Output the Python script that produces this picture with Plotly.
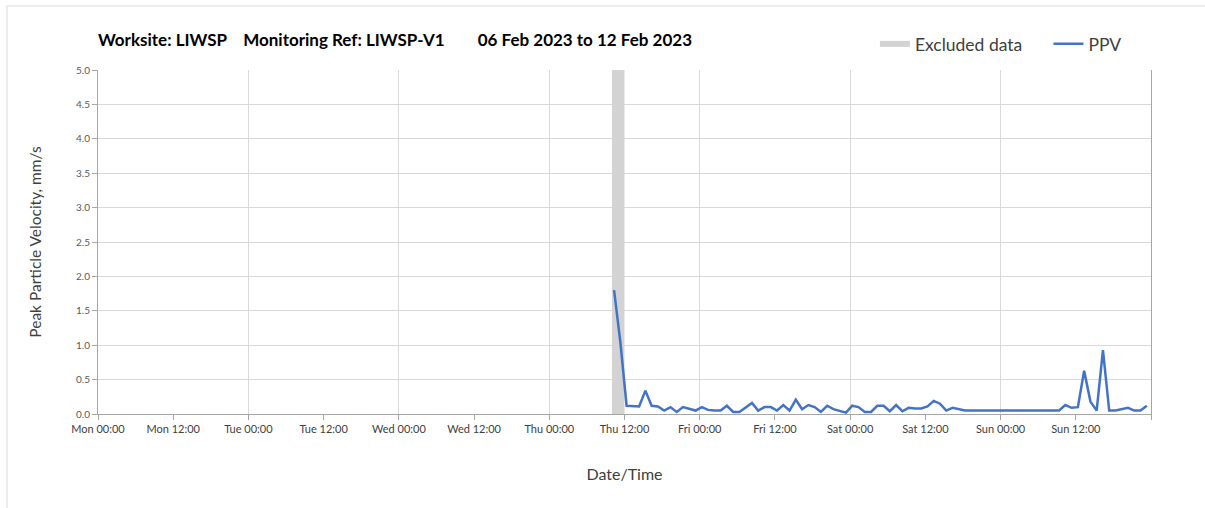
import pandas as pd
import plotly.graph_objects as go

# Hourly peak particle velocity readings (mm/s), starting Thu 09 Feb 2023 10:20
ppv_start = "2023-02-09 10:20"
ppv_values = [
    1.80, 1.05, 0.12, 0.11, 0.11, 0.34, 0.12, 0.11, 0.05, 0.10,
    0.03, 0.10, 0.07, 0.05, 0.10, 0.06, 0.05, 0.05, 0.12, 0.03,
    0.03, 0.10, 0.16, 0.05, 0.10, 0.10, 0.05, 0.13, 0.05, 0.21,
    0.07, 0.13, 0.10, 0.03, 0.12, 0.07, 0.05, 0.02, 0.12, 0.10,
    0.03, 0.03, 0.12, 0.12, 0.04, 0.13, 0.04, 0.09, 0.08, 0.08,
    0.11, 0.19, 0.15, 0.05, 0.09, 0.07, 0.05, 0.05, 0.05, 0.04,
    0.04, 0.05, 0.05, 0.05, 0.04, 0.04, 0.05, 0.05, 0.05, 0.05,
    0.05, 0.05, 0.13, 0.09, 0.10, 0.63, 0.18, 0.05, 0.93, 0.05,
    0.05, 0.07, 0.09, 0.05, 0.05, 0.12,
]
ppv_times = pd.date_range(ppv_start, periods=len(ppv_values), freq="h")

# Period flagged as excluded data
excluded_start = "2023-02-09 10:00"
excluded_end = "2023-02-09 12:00"

# Axis extent and tick labels
x_start = "2023-02-06 00:00"
x_end = "2023-02-13 00:00"
y_max = 5.0
tick_labels = [
    "Mon 00:00", "Mon 12:00", "Tue 00:00", "Tue 12:00", "Wed 00:00",
    "Wed 12:00", "Thu 00:00", "Thu 12:00", "Fri 00:00", "Fri 12:00",
    "Sat 00:00", "Sat 12:00", "Sun 00:00", "Sun 12:00", "",
]
tick_values = pd.date_range(x_start, x_end, freq="12h")

title_text = ("Worksite: LIWSP\u00a0\u00a0\u00a0\u00a0Monitoring Ref: LIWSP-V1"
              "\u00a0\u00a0\u00a0\u00a0\u00a0\u00a0\u00a0\u00a006 Feb 2023 to 12 Feb 2023")

FONT = "Lato"
AXIS_GREY = "#a6a6a6"
GRID_GREY = "#d9d9d9"
TEXT_GREY = "#404040"

fig = go.Figure()

fig.add_trace(go.Scatter(
    x=[excluded_start, excluded_start, excluded_end, excluded_end, excluded_start],
    y=[0, y_max, y_max, 0, 0],
    mode="none", fill="toself", fillcolor="#d3d3d3",
    name="Excluded data", xaxis="x", yaxis="y", hoverinfo="skip",
    legend="legend",
))

fig.add_trace(go.Scatter(
    x=ppv_times, y=ppv_values, mode="lines",
    line=dict(color="#4472c4", width=2.5),
    name="PPV", xaxis="x2", yaxis="y",
    legend="legend2",
))

legend_style = dict(
    orientation="h", yanchor="middle", y=1.0756, xanchor="left",
    font=dict(family=FONT, size=17.5, color=TEXT_GREY),
    bgcolor="rgba(0,0,0,0)",
)

fig.update_layout(
    width=1205, height=508,
    margin=dict(l=98, r=54, t=70, b=94, autoexpand=False),
    paper_bgcolor="white", plot_bgcolor="white",
    font=dict(family=FONT, color=TEXT_GREY),
    title=dict(
        text=title_text, x=0, xref="paper", xanchor="left",
        y=1 - 40 / 508, yref="container", yanchor="middle",
        font=dict(family=FONT, size=17, color="#000000", weight="bold"),
    ),
    showlegend=True,
    legend=dict(legend_style, x=0.7378),
    legend2=dict(legend_style, x=0.9026),
    xaxis=dict(
        range=[x_start, x_end], type="date",
        tickmode="array", tickvals=tick_values, ticktext=tick_labels,
        ticks="outside", ticklen=5, tickcolor=AXIS_GREY,
        tickfont=dict(family=FONT, size=11, color=TEXT_GREY),
        showgrid=False, zeroline=False,
        showline=True, linecolor=AXIS_GREY, linewidth=1,
        title=dict(text="Date/Time", standoff=34,
                   font=dict(family=FONT, size=16, color=TEXT_GREY)),
    ),
    xaxis2=dict(
        overlaying="x", matches="x", type="date", side="bottom",
        tick0=x_start, dtick=86400000,
        showticklabels=False, ticks="", showline=False,
        showgrid=True, gridcolor=GRID_GREY, gridwidth=1, zeroline=False,
    ),
    yaxis=dict(
        range=[0, y_max], dtick=0.5, tickformat=".1f",
        ticks="outside", ticklen=5, tickcolor=AXIS_GREY,
        tickfont=dict(family=FONT, size=10, color="#595959"),
        showgrid=True, gridcolor=GRID_GREY, gridwidth=1, zeroline=False,
        showline=True, linecolor=AXIS_GREY, linewidth=1, mirror=True,
        title=dict(text="Peak Particle Velocity, mm/s", standoff=30,
                   font=dict(family=FONT, size=15.5, color=TEXT_GREY)),
    ),
    shapes=[dict(
        type="rect", xref="paper", yref="paper",
        x0=(7 - 98) / 1053, x1=1.2, y0=-0.4, y1=(414 - 6) / 344,
        line=dict(color=GRID_GREY, width=1), fillcolor="rgba(0,0,0,0)",
        layer="below",
    )],
)

fig.write_html("out.html")
